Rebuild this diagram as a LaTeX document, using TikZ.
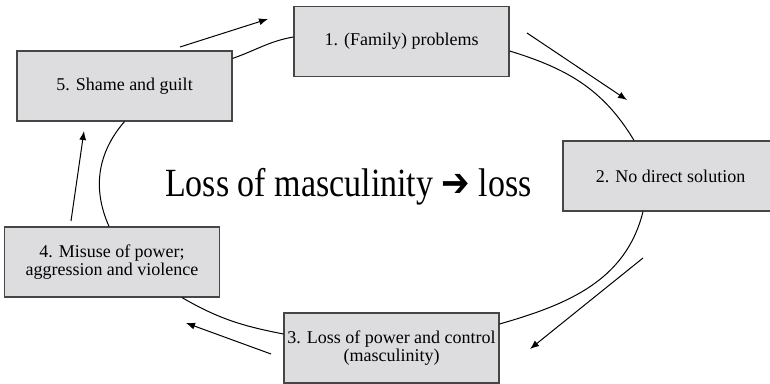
\documentclass[tikz,border=0pt]{standalone}
\usepackage{fontspec}
\setmainfont{Liberation Serif}
\newfontfamily\arrowfont{DejaVu Sans}
\usepackage{tikz}
\usetikzlibrary{arrows.meta, calc}
\definecolor{boxgray}{RGB}{221,221,223}
\definecolor{boxline}{RGB}{70,70,70}

\begin{document}
\begin{tikzpicture}[x=0.5pt, y=0.5pt,
            stage/.style={draw=boxline, fill=boxgray, line width=0.6pt, minimum width=107.5pt,
                          minimum height=35pt, inner xsep=0pt, align=center,
                          font=\fontsize{9}{8}\selectfont},
            cycle/.style={line width=0.5pt},
            flow/.style={line width=0.5pt, -{Latex[length=4.5pt, width=3.5pt]}}]

            \useasboundingbox (0,0) rectangle (770,384);

            % Stages of the cycle
            \node[stage] (b1) at (401.5,342.5) {1. (Family) problems};
            \node[stage] (b2) at (670.5,208) {2. No direct solution};
            \node[stage] (b3) at (391.5,36) {3. Loss of power and control\\(masculinity)};
            \node[stage] (b4) at (112,122) {4. Misuse of power;\\aggression and violence};
            \node[stage] (b5) at (124.5,298) {5. Shame and guilt};

            % Centre text
            \node[anchor=base, inner sep=0pt] (centre) at (348.5,187)
                {\scalebox{0.85}[1]{\fontsize{20}{24}\selectfont Loss of masculinity {\arrowfont ➔} loss}};

            % Curves between the stages
            \draw[cycle] ($(b5.north east)+(0,-8)$) to[out=19, in=190] ($(b1.west)+(0,4.5)$);
            \draw[cycle] ($(b1.east)+(0,-9.5)$) to[out=-17, in=121] ($(b2.north)+(-36.5,0)$);
            \draw[cycle] ($(b2.south)+(-27.5,0)$) to[out=256, in=16] ($(b3.east)+(0,24)$);
            \draw[cycle] ($(b3.west)+(0,14)$) to[out=169, in=330] ($(b4.south)+(70,0)$);
            \draw[cycle] ($(b4.north)+(-3,0)$) to[out=114, in=229] (b5.south);

            % Direction arrows
            \coordinate (a51s) at (180,337);  \coordinate (a51e) at (268,365);
            \coordinate (a12s) at (527,351);  \coordinate (a12e) at (627,284);
            \coordinate (a23s) at (643,126);  \coordinate (a23e) at (530,35);
            \coordinate (a34s) at (271,30);   \coordinate (a34e) at (186,61);
            \coordinate (a45s) at (71,163);   \coordinate (a45e) at (84,253);
            \draw[flow] (a51s) -- (a51e);
            \draw[flow] (a12s) -- (a12e);
            \draw[flow] (a23s) -- (a23e);
            \draw[flow] (a34s) -- (a34e);
            \draw[flow] (a45s) -- (a45e);
        \end{tikzpicture}
\end{document}
